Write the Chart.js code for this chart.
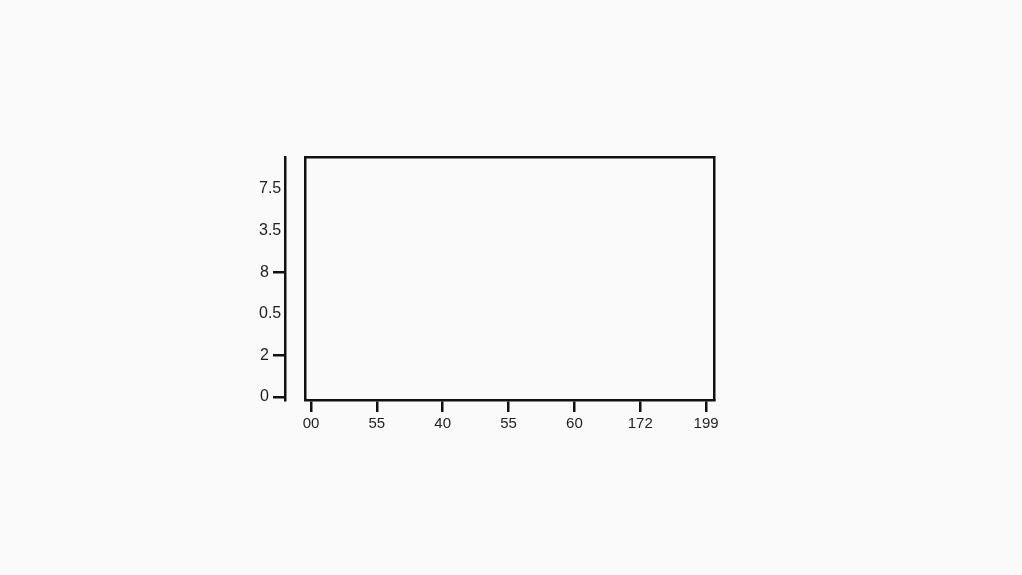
<!DOCTYPE html>
<html>
<head>
<meta charset="utf-8">
<title>chart</title>
<script src="https://cdn.jsdelivr.net/npm/chart.js@4.4.1/dist/chart.umd.min.js"></script>
<style>
  html, body { margin: 0; padding: 0; background: #fafafa; }
  canvas { display: block; }
</style>
</head>
<body>
<canvas id="chart" width="1022" height="575"></canvas>
<script>
// tick labels as printed on the picture
const xLabels = ['00', '55', '40', '55', '60', '172', '199'];
const yLabels = ['0', '2', '0.5', '8', '3.5', '7.5'];   // bottom to top
const yMarked = [0, 1, 3];                            // rows that carry a tick mark
// the plot box is empty
const seriesValues = [];

const ink = '#111';
const textColor = '#1e1e1e';
const family = "'Liberation Sans', Arial, sans-serif";
const xFont = { family: family, size: 15 };
const yFont = { family: family, size: 16 };

// one tick per label, at index positions
function indexTicks(labels) {
  return function(scale) {
    scale.ticks = labels.map((_, i) => ({ value: i }));
  };
}
function fixWidth(w) {
  return function(scale) { scale.width = w; };
}

const yRange = { min: -0.072, max: 5.77 };

new Chart(document.getElementById('chart'), {
  type: 'scatter',
  data: {
    datasets: [{ data: seriesValues, pointRadius: 0 }]
  },
  options: {
    responsive: false,
    animation: false,
    layout: { padding: { left: 285, right: 308, top: 157, bottom: 135 } },
    plugins: { legend: { display: false }, tooltip: { enabled: false } },
    scales: {
      x: {
        type: 'linear',
        position: 'bottom',
        min: -0.091,
        max: 6.12,
        afterBuildTicks: indexTicks(xLabels),
        afterFit: function(scale) { scale.height = 40; },
        border: { display: true, color: ink, width: 2.5 },
        grid: { drawOnChartArea: false, tickLength: 12, tickColor: ink, lineWidth: 2.5 },
        ticks: {
          color: textColor, font: xFont, padding: 3, maxRotation: 0, autoSkip: false,
          callback: (v, i) => xLabels[i]
        }
      },
      xTop: {
        type: 'linear',
        position: 'top',
        min: -0.091,
        max: 6.12,
        afterFit: function(scale) { scale.height = 0; },
        border: { display: true, color: ink, width: 2.5 },
        grid: { display: false },
        ticks: { display: false }
      },
      yRight: {
        type: 'linear',
        position: 'right',
        min: yRange.min,
        max: yRange.max,
        afterFit: fixWidth(0),
        border: { display: true, color: ink, width: 2.5 },
        grid: { display: false },
        ticks: { display: false }
      },
      // the plot box's own left edge
      y: {
        type: 'linear',
        position: 'left',
        weight: 0,
        min: yRange.min,
        max: yRange.max,
        afterFit: fixWidth(20),
        border: { display: true, color: ink, width: 2.5 },
        grid: { display: false },
        ticks: { display: false }
      },
      // detached axis line with the marked labels
      // (mirror so the labels are not clipped by the zero-width scale)
      yMarks: {
        type: 'linear',
        position: 'left',
        weight: 1,
        min: yRange.min,
        max: yRange.max,
        afterBuildTicks: indexTicks(yLabels),
        afterFit: fixWidth(0),
        border: { display: true, color: ink, width: 2.5 },
        grid: {
          drawOnChartArea: false,
          tickLength: 12,
          lineWidth: 2.5,
          tickColor: ctx => yMarked.includes(ctx.index) ? ink : 'rgba(0,0,0,0)'
        },
        ticks: {
          color: textColor, font: yFont, autoSkip: false,
          mirror: true, crossAlign: 'far', padding: -25,
          callback: (v, i) => yMarked.includes(i) ? yLabels[i] : ''
        }
      },
      // unmarked labels sit closer to the line
      yPlain: {
        type: 'linear',
        position: 'left',
        weight: 2,
        min: yRange.min,
        max: yRange.max,
        afterBuildTicks: indexTicks(yLabels),
        afterFit: fixWidth(0),
        border: { display: false },
        grid: { display: false, drawTicks: false },
        ticks: {
          color: textColor, font: yFont, autoSkip: false,
          mirror: true, crossAlign: 'far', padding: -26,
          callback: (v, i) => yMarked.includes(i) ? '' : yLabels[i]
        }
      }
    }
  }
});
</script>
</body>
</html>
